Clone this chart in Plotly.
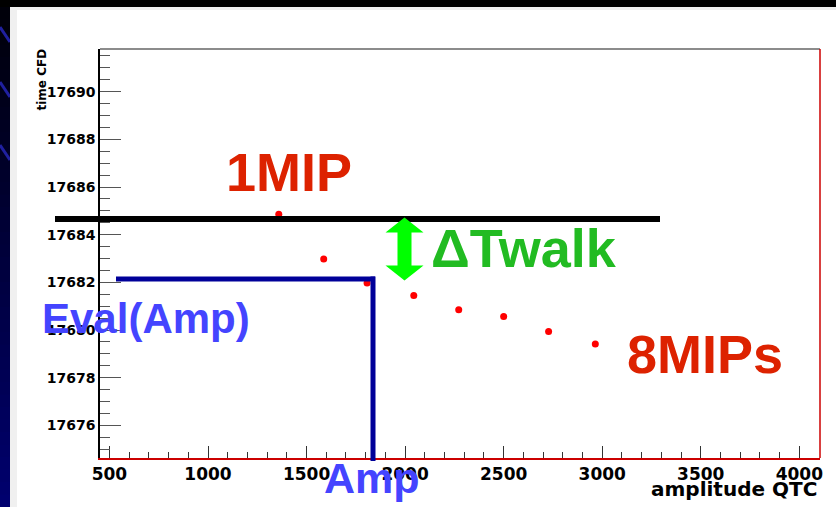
import plotly.graph_objects as go

# ---- data ----
amplitude = [1359, 1587, 1807, 2044, 2272, 2500, 2728, 2965]
time_cfd = [17684.86, 17682.98, 17681.97, 17681.45, 17680.85, 17680.57, 17679.94, 17679.41]

x_range = [452, 4105]
y_range = [17674.63, 17691.79]

# ---- layout geometry (pixels) ----
W, H = 836, 507
L, R, T, B = 100, 820, 49, 458


def px(x):
    return (x - L) / (R - L)


def py(y):
    return (B - y) / (B - T)


fig = go.Figure()
fig.add_trace(go.Scatter(
    x=amplitude, y=time_cfd, mode="markers",
    marker=dict(color="#ff0000", size=7, line=dict(width=0)),
    showlegend=False, hoverinfo="skip"))

shapes = []
# page decoration: top black band, left navy strip, grey frame
shapes.append(dict(type="rect", xref="paper", yref="paper", x0=px(0), x1=px(W), y0=py(0), y1=py(7),
                   fillcolor="#000000", line=dict(width=0), layer="below"))
n = 40
for i in range(n):
    y0 = 7 + (H - 7) * i / n
    y1 = 7 + (H - 7) * (i + 1) / n
    f = i / (n - 1)
    col = "rgb(0,0,%d)" % int(10 + 100 * f)
    shapes.append(dict(type="rect", xref="paper", yref="paper", x0=px(0), x1=px(10), y0=py(y0), y1=py(y1 + 0.5),
                       fillcolor=col, line=dict(width=0), layer="below"))
for (ya, yb) in [(27, 42), (82, 97), (145, 160)]:
    shapes.append(dict(type="line", xref="paper", yref="paper", x0=px(0), x1=px(10), y0=py(ya), y1=py(yb),
                       line=dict(color="#2020a0", width=3), layer="below"))
shapes.append(dict(type="rect", xref="paper", yref="paper", x0=px(10), x1=px(W), y0=py(7), y1=py(10),
                   fillcolor="#f0f0f0", line=dict(width=0), layer="below"))
shapes.append(dict(type="rect", xref="paper", yref="paper", x0=px(10), x1=px(17), y0=py(7), y1=py(H),
                   fillcolor="#f0f0f0", line=dict(width=0), layer="below"))

# frame lines
shapes.append(dict(type="line", xref="paper", yref="paper", x0=0, x1=1, y0=1, y1=1,
                   line=dict(color="#666666", width=1.5), layer="above"))
shapes.append(dict(type="line", xref="paper", yref="paper", x0=1, x1=1, y0=0, y1=1,
                   line=dict(color="#cc0000", width=1.5), layer="above"))

# overlays
shapes.append(dict(type="line", xref="paper", yref="paper", x0=px(55), x1=px(660), y0=py(219), y1=py(219),
                   line=dict(color="#000000", width=6), layer="above"))
shapes.append(dict(type="line", xref="paper", yref="paper", x0=px(116), x1=px(375), y0=py(279), y1=py(279),
                   line=dict(color="#000099", width=5), layer="above"))
shapes.append(dict(type="line", xref="paper", yref="paper", x0=px(373), x1=px(373), y0=py(276.5), y1=py(461),
                   line=dict(color="#000099", width=5), layer="above"))

# green double arrow
ax, top, bot = 404.5, 217.5, 280.5
hw, sw, hh = 19, 7, 15
pts = [(ax, top), (ax + hw, top + hh), (ax + sw, top + hh), (ax + sw, bot - hh), (ax + hw, bot - hh),
       (ax, bot), (ax - hw, bot - hh), (ax - sw, bot - hh), (ax - sw, top + hh), (ax - hw, top + hh)]
path = "M " + " L ".join("%.5f,%.5f" % (px(a), py(b)) for a, b in pts) + " Z"
shapes.append(dict(type="path", xref="paper", yref="paper", path=path,
                   fillcolor="#00ff00", line=dict(width=0), layer="above"))

annotations = []


def txt(s, xc, yc, size, color, family="Liberation Sans", angle=0, xanchor="center"):
    annotations.append(dict(text="<b>%s</b>" % s, xref="paper", yref="paper", x=px(xc), y=py(yc),
                            xanchor=xanchor, yanchor="middle", showarrow=False, textangle=angle,
                            font=dict(family=family, size=size, color=color)))


txt("1MIP", 289, 172, 54, "#dd2200")
txt("ΔTwalk", 524, 248, 54, "#22bb22")
txt("8MIPs", 705, 354, 54, "#dd2200")
txt("Eval(Amp)", 146, 318, 42, "#4444ff")
txt("Amp", 371.5, 478, 43, "#4444ff")
txt("time CFD", 41, 79.5, 12, "#000000", family="DejaVu Sans", angle=-90)
txt("amplitude QTC", 819, 489, 20, "#000000", family="DejaVu Sans", xanchor="right")

fig.update_layout(
    width=W, height=H,
    margin=dict(l=L, r=W - R, t=T, b=H - B, pad=0, autoexpand=False),
    paper_bgcolor="#ffffff", plot_bgcolor="#ffffff",
    shapes=shapes, annotations=annotations,
    xaxis=dict(range=x_range, tick0=500, dtick=500, ticks="inside", ticklen=12, tickwidth=1,
               tickcolor="#333333", showgrid=False, zeroline=False, showline=True,
               linecolor="#cc0000", linewidth=1.5, tickformat="d",
               tickfont=dict(family="DejaVu Sans", size=17, color="#000000", weight="bold"),
               minor=dict(dtick=100, ticks="inside", ticklen=6, tickcolor="#333333", showgrid=False)),
    yaxis=dict(range=y_range, tick0=17676, dtick=2, ticks="inside", ticklen=21, tickwidth=1,
               tickcolor="#555555", showgrid=False, zeroline=False, showline=True,
               linecolor="#000000", linewidth=1.5, tickformat="d",
               tickfont=dict(family="DejaVu Sans", size=14, color="#000000", weight="bold"),
               minor=dict(dtick=0.5, ticks="inside", ticklen=10, tickcolor="#555555", showgrid=False)),
)

fig.write_html("out.html", config={"displayModeBar": False},
               post_script="document.body.style.margin='0';document.body.style.overflow='hidden';")
